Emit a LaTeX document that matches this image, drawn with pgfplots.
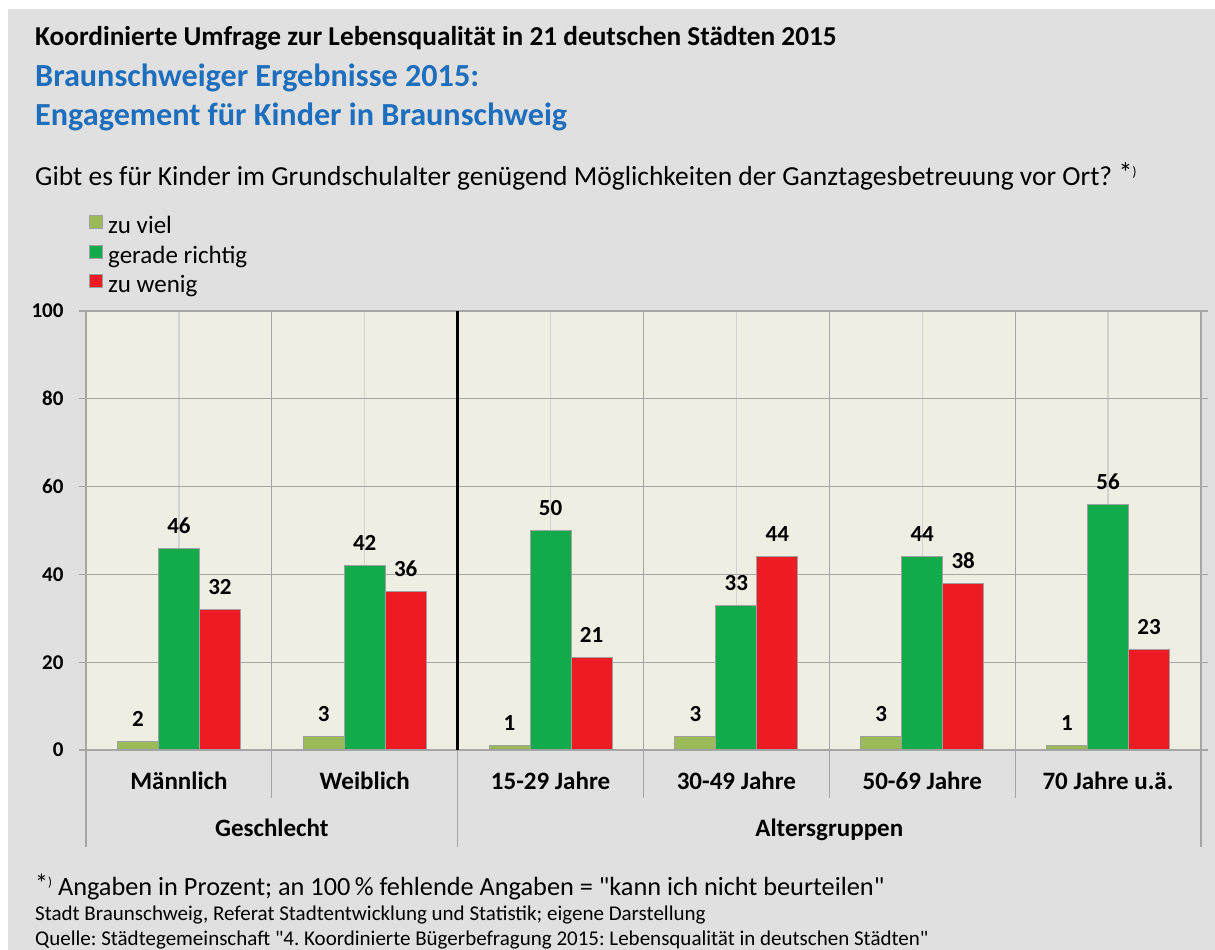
\documentclass[border=0pt]{standalone}
\usepackage{fontspec}
\setmainfont{Carlito}
\usepackage{pgfplots}
\pgfplotsset{compat=1.18}
\definecolor{panel}{HTML}{E0E0E0}
\definecolor{plotbg}{HTML}{EEEEE2}
\definecolor{gridgray}{HTML}{A6A6A6}
\definecolor{lightgrid}{HTML}{D2D2D2}
\definecolor{bargray}{HTML}{A0A0A0}
\definecolor{cOlive}{HTML}{9BBB59}
\definecolor{cGreen}{HTML}{12AB4B}
\definecolor{cRed}{HTML}{ED1C24}
\definecolor{cBlue}{HTML}{1E6EBE}
\newcommand{\fs}[1]{\fontsize{#1}{#1}\selectfont}
\frenchspacing
\begin{document}
\begin{tikzpicture}[x=1pt,y=1pt]
\useasboundingbox (0,0) rectangle (1215,950);
\fill[white] (0,0) rectangle (1215,950);
\fill[panel] (8,0) rectangle (1215,941);
\coordinate (axpos) at (86,200);
\node[anchor=base west, inner sep=0pt, font=\bfseries\fs{27.3}] at (35,904) {Koordinierte Umfrage zur Lebensqualität in 21 deutschen Städten 2015};
\node[anchor=base west, inner sep=0pt, font=\bfseries\fs{32.2}, text=cBlue] at (35,863) {Braunschweiger Ergebnisse 2015:};
\node[anchor=base west, inner sep=0pt, font=\bfseries\fs{32.2}, text=cBlue] at (35,824) {Engagement für Kinder in Braunschweig};
\node[anchor=base west, inner sep=0pt, font=\fs{27.5}] at (35,764) {Gibt es für Kinder im Grundschulalter genügend Möglichkeiten der Ganztagesbetreuung vor Ort? \raisebox{3pt}{\fs{28}*}\raisebox{9pt}{\fs{14})}};
\node[anchor=base west, inner sep=0pt, font=\fs{26.3}] at (35,54) {\raisebox{3pt}{\fs{26}*}\raisebox{9pt}{\fs{13})} Angaben in Prozent; an 100\,\% fehlende Angaben = \textquotedbl kann ich nicht beurteilen\textquotedbl};
\node[anchor=base west, inner sep=0pt, font=\fs{21}] at (35,29) {Stadt Braunschweig, Referat Stadtentwicklung und Statistik; eigene Darstellung};
\node[anchor=base west, inner sep=0pt, font=\fs{21}] at (35,4) {Quelle: Städtegemeinschaft \textquotedbl 4. Koordinierte Bügerbefragung 2015: Lebensqualität in deutschen Städten\textquotedbl};
\begin{axis}[
  at={(axpos)}, anchor=south west,
  scale only axis, width=1115pt, height=439pt,
  xmin=-0.5, xmax=5.5, ymin=0, ymax=100,
  axis background/.style={fill=plotbg},
  axis line style={draw=gridgray, line width=1.2pt},
  clip=false,
  /pgf/number format/assume math mode=true,
  ybar, bar width=41pt,
  xtick={0,1,2,3,4,5},
  xticklabels={Männlich,Weiblich,15-29 Jahre,30-49 Jahre,50-69 Jahre,70 Jahre u.ä.},
  minor xtick={0.5,1.5,2.5,3.5,4.5},
  x tick style={draw=none}, minor x tick style={draw=none},
  xmajorgrids, xminorgrids, ymajorgrids,
  major x grid style={draw=lightgrid, line width=1.2pt},
  minor x grid style={draw=gridgray, line width=1.2pt},
  major y grid style={draw=gridgray, line width=1.2pt},
  ytick={0,20,40,60,80,100},
  y tick style={draw=gridgray, line width=1.2pt},
  tick align=outside, major tick length=7pt,
  xticklabel style={font=\bfseries\fs{25}, anchor=base, yshift=-33pt},
  yticklabel style={font=\bfseries\fs{21}, anchor=east, xshift=-12pt},
  nodes near coords,
  every node near coord/.append style={font=\bfseries\fs{23}, anchor=base, yshift=15pt, text=black},
  legend style={at={(0,1)}, anchor=south west, draw=none, fill=none, inner xsep=0pt, inner ysep=0pt, xshift=3pt, yshift=12pt,
    font=\fs{25}, row sep=5pt, nodes={inner sep=1pt, text height=17pt, text depth=5pt},
    /tikz/every odd column/.append style={column sep=4pt}},
  legend cell align=left,
  legend image code/.code={\draw[#1, draw=bargray, line width=1pt] (0pt,-1pt) rectangle (13pt,12pt);},
]
\addplot[fill=cOlive, draw=bargray, line width=1pt, bar shift=-41pt] coordinates {(0,2) (1,3) (2,1) (3,3) (4,3) (5,1)};
\addplot[fill=cGreen, draw=bargray, line width=1pt, bar shift=0pt] coordinates {(0,46) (1,42) (2,50) (3,33) (4,44) (5,56)};
\addplot[fill=cRed, draw=bargray, line width=1pt, bar shift=41pt] coordinates {(0,32) (1,36) (2,21) (3,44) (4,38) (5,23)};
\legend{zu viel, gerade richtig, zu wenig}
\draw[black, line width=2.5pt] (axis cs:1.5,0) -- (axis cs:1.5,100);
\draw[gridgray, line width=1.2pt] (axis cs:0.5,0) -- ++(0pt,-48pt);
\draw[gridgray, line width=1.2pt] (axis cs:2.5,0) -- ++(0pt,-48pt);
\draw[gridgray, line width=1.2pt] (axis cs:3.5,0) -- ++(0pt,-48pt);
\draw[gridgray, line width=1.2pt] (axis cs:4.5,0) -- ++(0pt,-48pt);
\draw[gridgray, line width=1.2pt] (axis cs:-0.5,0) -- ++(0pt,-97pt);
\draw[gridgray, line width=1.2pt] (axis cs:1.5,0) -- ++(0pt,-97pt);
\draw[gridgray, line width=1.2pt] (axis cs:5.5,0) -- ++(0pt,-97pt);
\node[anchor=base, font=\bfseries\fs{25}] at ([yshift=-87pt]axis cs:0.5,0) {Geschlecht};
\node[anchor=base, font=\bfseries\fs{25}] at ([yshift=-87pt]axis cs:3.5,0) {Altersgruppen};
\end{axis}
\end{tikzpicture}
\end{document}
